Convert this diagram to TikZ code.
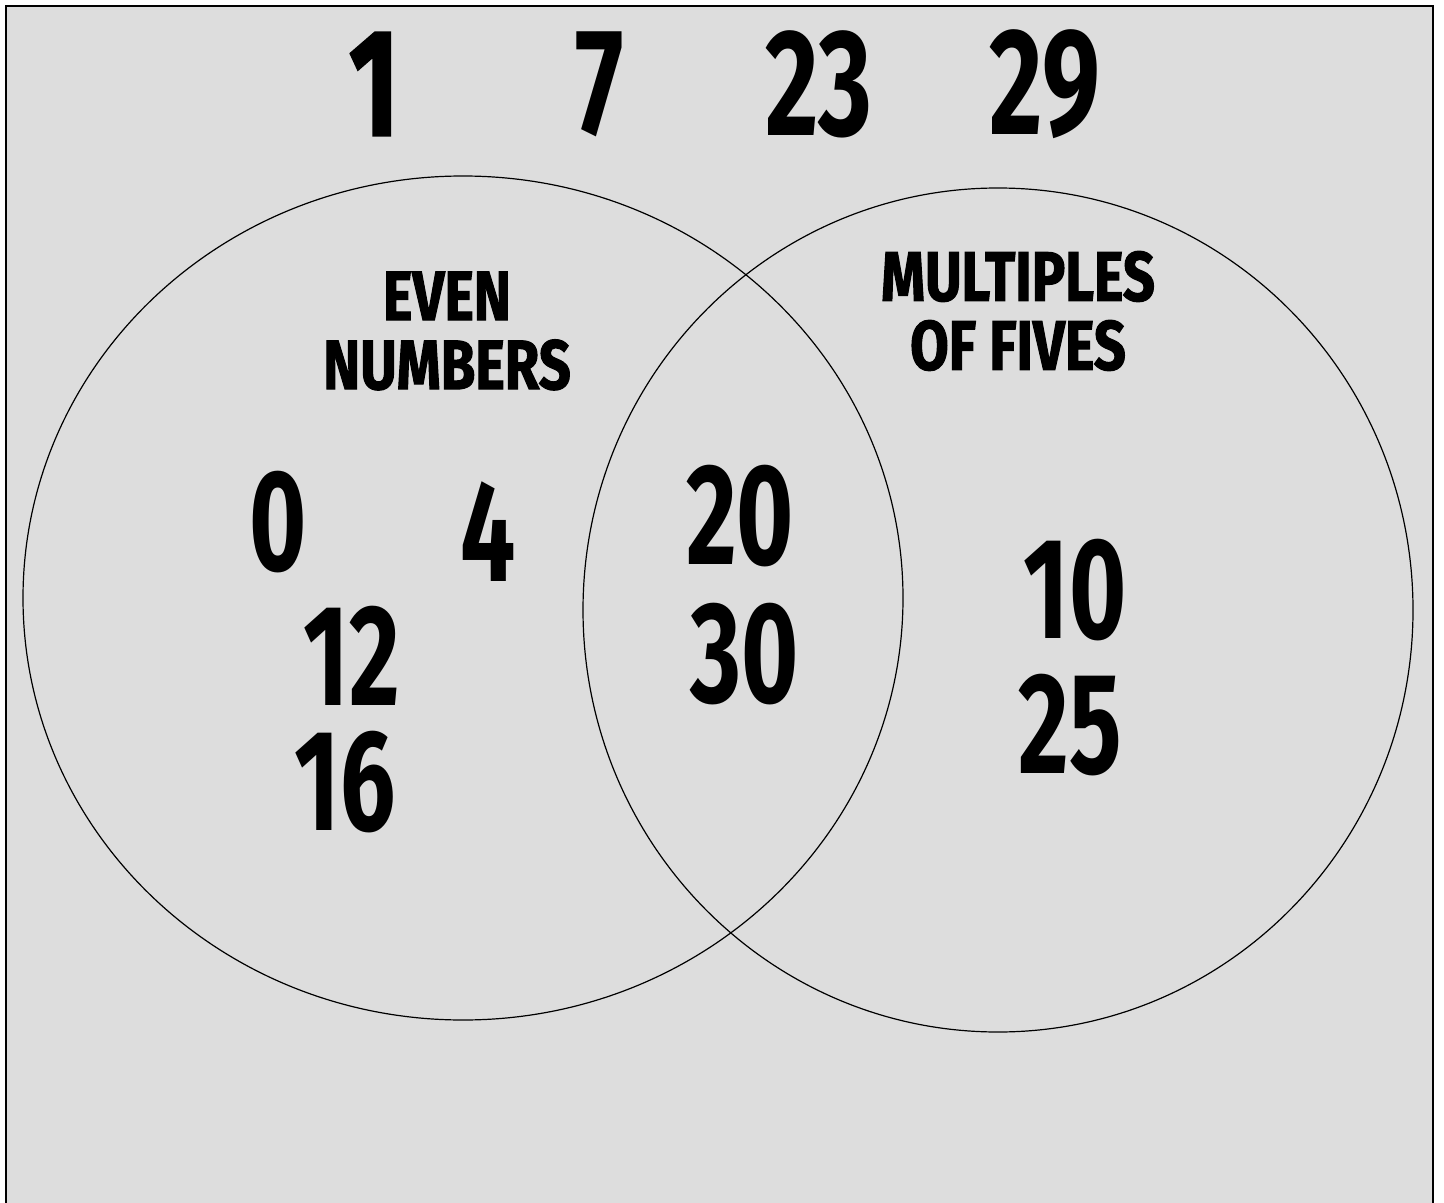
\documentclass[tikz,border=0pt]{standalone}
\usepackage{fontspec}
\newfontfamily\digitfont[FakeStretch=0.68]{Fira Sans}
\newfontfamily\onefont[FakeStretch=0.7,BoldFeatures={FakeBold=1.5}]{Fira Sans}
\newfontfamily\labelfont[FakeStretch=0.8,BoldFeatures={FakeBold=1.5}]{Fira Sans}
\definecolor{paper}{HTML}{DDDDDD}
\tikzset{
  num/.style={font=\digitfont\bfseries\fontsize{72}{72}\selectfont, inner sep=0pt},
  topnum/.style={font=\digitfont\bfseries\fontsize{76}{76}\selectfont, inner sep=0pt},
  setname/.style={font=\labelfont\bfseries\fontsize{35}{34.5}\selectfont, align=center, inner sep=0pt}
}
\begin{document}
\begin{tikzpicture}[x=0.5pt,y=-0.5pt]
\useasboundingbox (0,0) rectangle (1444,1203);
\fill[white] (0,0) rectangle (1444,1203);
\draw[line width=1.2pt,fill=paper] (6,6) rectangle (1433,1215);
% the two sets
\coordinate (even) at (463,598);
\coordinate (five) at (998,610);
\draw[line width=0.6pt] (even) ellipse [x radius=440, y radius=422];
\draw[line width=0.6pt] (five) ellipse [x radius=415, y radius=422];
\node[setname] (evenlabel) at (447,331) {EVEN\\NUMBERS};
\node[setname] (fivelabel) at (1018,311) {MULTIPLES\\OF FIVES};
% outside both
\node[topnum,font=\onefont\bfseries\fontsize{76}{76}\selectfont] (n1) at (374,84) {1};
\node[topnum] (n7) at (600,84) {7};
\node[topnum] (n23) at (819,84) {23};
\node[topnum] (n29) at (1045,84) {29};
% even only
\node[num] (n0) at (278,522) {0};
\node[num] (n4) at (488,532) {4};
\node[num] (n12) at (352,656) {12};
\node[num] (n16) at (345,782) {16};
% both
\node[num] (n20) at (740,516) {20};
\node[num] (n30) at (745,654) {30};
% multiples of five only
\node[num] (n10) at (1075,590) {10};
\node[num] (n25) at (1070,725) {25};
\end{tikzpicture}
\end{document}
